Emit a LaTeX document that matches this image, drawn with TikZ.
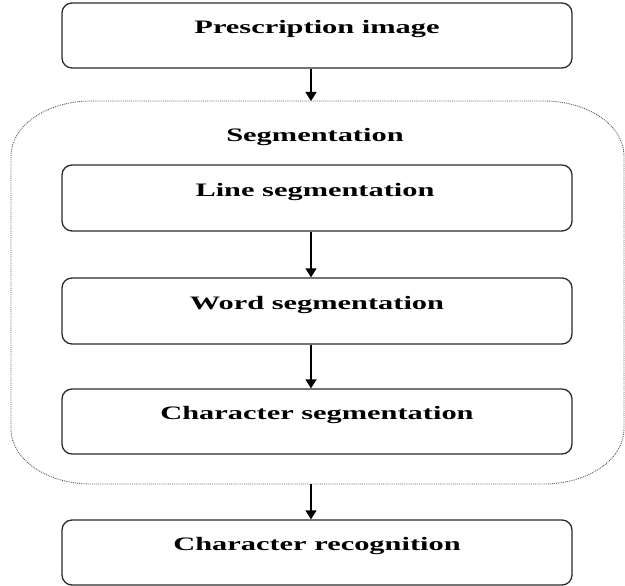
\documentclass[tikz,border=0pt]{standalone}
\usepackage{fontspec}
\usepackage{graphicx}
\setmainfont{Liberation Serif}
\usetikzlibrary{arrows.meta}
\definecolor{boxline}{HTML}{2A2A2A}
\definecolor{dotline}{HTML}{5A5A5A}
\tikzset{
  stage/.style={draw=boxline, line width=1.3pt, rounded corners=10pt,
    minimum width=510pt, minimum height=65pt, inner sep=0pt},
  stagetext/.style={anchor=base, inner sep=0pt,
    font=\fontsize{19}{23}\selectfont\bfseries},
  flow/.style={draw=black, line width=1.4pt,
    -{Triangle[width=11pt,length=9pt]}},
  segline/.style={draw=dotline, line width=0.9pt, densely dotted}
}
\newcommand{\wide}[1]{\scalebox{1.6}[1]{#1}}
\begin{document}
\begin{tikzpicture}[x=1pt,y=1pt]
\useasboundingbox (0,0) rectangle (625,586);
% container
\draw[segline] (91,485) -- (544,485)
  arc[start angle=90,end angle=0,x radius=80,y radius=55] -- (624,157)
  arc[start angle=0,end angle=-90,x radius=80,y radius=55] -- (91,102)
  arc[start angle=270,end angle=180,x radius=80,y radius=55] -- (11,430)
  arc[start angle=180,end angle=90,x radius=80,y radius=55] -- cycle;
\coordinate (segtop) at (311,485);
\coordinate (segbot) at (311,102);
\node[stagetext] (segtxt) at (315,444) {\wide{Segmentation}};
% boxes
\node[stage] (pres) at (317,550.5) {};
\node[stage, minimum height=66pt] (line) at (317,388) {};
\node[stage, minimum height=66pt] (word) at (317,275) {};
\node[stage] (char) at (317,164.5) {};
\node[stage] (recog) at (317,33.5) {};
% texts
\node[stagetext] (prestxt) at (317,552) {\wide{Prescription image}};
\node[stagetext] (linetxt) at (315,389) {\wide{Line segmentation}};
\node[stagetext] (wordtxt) at (317,276) {\wide{Word segmentation}};
\node[stagetext] (chartxt) at (317,166) {\wide{Character segmentation}};
\node[stagetext] (recogtxt) at (317,35) {\wide{Character recognition}};
% arrows
\draw[flow] (pres.south -| segtop) -- (segtop);
\draw[flow] (line.south -| segtop) -- (word.north -| segtop);
\draw[flow] (word.south -| segtop) -- (char.north -| segtop);
\draw[flow] (segbot) -- (recog.north -| segbot);
\end{tikzpicture}
\end{document}
